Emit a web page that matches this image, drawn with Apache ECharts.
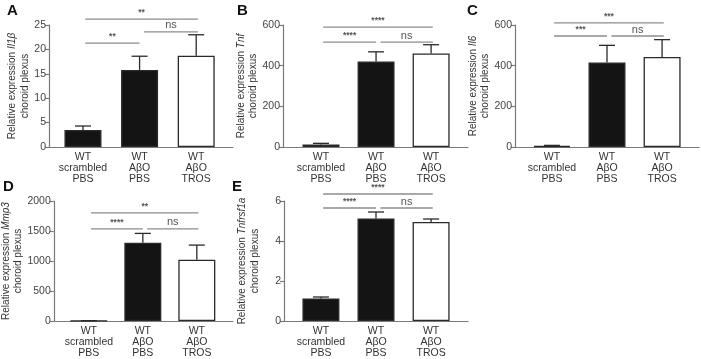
<!DOCTYPE html>
<html>
<head>
<meta charset="utf-8">
<script src="https://cdn.jsdelivr.net/npm/echarts@6/dist/echarts.min.js"></script>
<style>
  html, body { margin: 0; padding: 0; background: #fff; }
  #chart { width: 701px; height: 359px; }
</style>
</head>
<body>
<div id="chart"></div>
<script>
// groups (x positions 0, 1, 2)
const groups = ['WT\nscrambled\nPBS', 'WT\nAβO\nPBS', 'WT\nAβO\nTROS'];
const barFill = ['black', 'black', 'white'];

// mean and SEM
const il1bMean = [3.5, 15.8, 18.7];
const il1bSem = [0.8, 2.8, 4.3];
const tnfMean = [12, 420, 460];
const tnfSem = [6, 48, 43];
const il6Mean = [5, 415, 443];
const il6Sem = [3, 85, 85];
const mmp3Mean = [3, 1305, 1020];
const mmp3Sem = [2, 155, 245];
const tnfrsf1aMean = [1.13, 5.13, 4.95];
const tnfrsf1aSem = [0.07, 0.32, 0.15];

// y axis ticks: [max, step]
const il1bTicks = [25, 5];
const tnfTicks = [600, 200];
const il6Ticks = [600, 200];
const mmp3Ticks = [2000, 500];
const tnfrsf1aTicks = [6, 2];

// significance brackets [from, to, label]
const il1bSig = [[0, 2, '**'], [1, 2, 'ns'], [0, 1, '**']];
const tnfSig = [[0, 2, '****'], [1, 2, 'ns'], [0, 1, '****']];
const il6Sig = [[0, 2, '***'], [1, 2, 'ns'], [0, 1, '***']];
const mmp3Sig = [[0, 2, '**'], [1, 2, 'ns'], [0, 1, '****']];
const tnfrsf1aSig = [[0, 2, '****'], [1, 2, 'ns'], [0, 1, '****']];

const FONT = '"Liberation Sans", Arial, sans-serif';

const panels = [
  { letter: 'A', gene: 'Il1β', mean: il1bMean, sem: il1bSem, ticks: il1bTicks, sig: il1bSig,
    grid: { left: 49, top: 25, width: 184, height: 122 }, xr: [-0.6, 2.65], gap: 18,
    sigY: [26.2, 23.6, 21.3], lx: 7, ly: 3 },
  { letter: 'B', gene: 'Tnf', mean: tnfMean, sem: tnfSem, ticks: tnfTicks, sig: tnfSig,
    grid: { left: 283, top: 25, width: 185, height: 122 }, xr: [-0.69, 2.67], gap: 23,
    sigY: [590, 516, 516], lx: 237, ly: 3 },
  { letter: 'C', gene: 'Il6', mean: il6Mean, sem: il6Sem, ticks: il6Ticks, sig: il6Sig,
    grid: { left: 515, top: 25, width: 184, height: 122 }, xr: [-0.67, 2.67], gap: 19,
    sigY: [610, 546, 546], lx: 467, ly: 3 },
  { letter: 'D', gene: 'Mmp3', mean: mmp3Mean, sem: mmp3Sem, ticks: mmp3Ticks, sig: mmp3Sig,
    grid: { left: 49, top: 201, width: 184, height: 121 }, xr: [-0.65, 2.67], gap: 24,
    sigY: [1802, 1537, 1537], lx: 3, ly: 179 },
  { letter: 'E', gene: 'Tnfrsf1a', mean: tnfrsf1aMean, sem: tnfrsf1aSem, ticks: tnfrsf1aTicks, sig: tnfrsf1aSig,
    grid: { left: 284, top: 201, width: 184, height: 121 }, xr: [-0.67, 2.67], gap: 23,
    sigY: [6.35, 5.65, 5.65], lx: 232, ly: 179 }
];

const chart = echarts.init(document.getElementById('chart'));

const grid = [], xAxis = [], yAxis = [], series = [], graphic = [];

panels.forEach((p, i) => {
  grid.push(p.grid);
  xAxis.push({
    gridIndex: i,
    type: 'value',
    min: p.xr[0],
    max: p.xr[1],
    axisLine: { show: true, onZero: false, lineStyle: { color: '#7a7a7a', width: 1.2 } },
    axisTick: { show: false },
    splitLine: { show: false },
    axisLabel: {
      customValues: [0, 1, 2],
      formatter: v => groups[Math.round(v)],
      color: '#333',
      fontSize: 10.5,
      lineHeight: 11,
      margin: 5,
      fontFamily: FONT
    }
  });
  yAxis.push({
    gridIndex: i,
    type: 'value',
    min: 0,
    max: p.ticks[0],
    interval: p.ticks[1],
    name: '{n|Relative expression }{i|' + p.gene + '}\n{n|choroid plexus}',
    nameLocation: 'middle',
    nameGap: p.gap,
    nameTextStyle: {
      fontFamily: FONT,
      color: '#333',
      rich: {
        n: { fontSize: 10, lineHeight: 12.5, color: '#333', fontFamily: FONT },
        i: { fontSize: 10, lineHeight: 12.5, color: '#333', fontStyle: 'italic', fontFamily: FONT }
      }
    },
    axisLine: { show: true, onZero: false, lineStyle: { color: '#7a7a7a', width: 1.2 } },
    axisTick: { show: true, length: 4, lineStyle: { color: '#7a7a7a', width: 1.2 } },
    splitLine: { show: false },
    axisLabel: {
      color: '#444', fontSize: 10.5, margin: 3, fontFamily: FONT,
      formatter: v => String(v)
    }
  });

  series.push({
    type: 'bar',
    xAxisIndex: i,
    yAxisIndex: i,
    barWidth: 37,
    silent: true,
    data: p.mean.map((v, k) => ({
      value: [k, v],
      itemStyle: {
        color: barFill[k] === 'black' ? '#141414' : '#ffffff',
        borderColor: '#2a2a2a',
        borderWidth: 1.3
      }
    }))
  });

  // error bars (upper only)
  series.push({
    type: 'custom',
    xAxisIndex: i,
    yAxisIndex: i,
    clip: false,
    silent: true,
    data: p.mean.map((v, k) => [k, v, v + p.sem[k]]),
    encode: { x: 0, y: [1, 2] },
    renderItem(params, api) {
      const x = api.value(0);
      const a = api.coord([x, api.value(1)]);
      const b = api.coord([x, api.value(2)]);
      const st = { stroke: '#2a2a2a', lineWidth: 1.3 };
      return {
        type: 'group',
        children: [
          { type: 'line', shape: { x1: a[0], y1: a[1], x2: b[0], y2: b[1] }, style: st },
          { type: 'line', shape: { x1: b[0] - 8, y1: b[1], x2: b[0] + 8, y2: b[1] }, style: st }
        ]
      };
    }
  });

  // significance lines
  series.push({
    type: 'custom',
    xAxisIndex: i,
    yAxisIndex: i,
    clip: false,
    silent: true,
    data: p.sig.map((s, k) => [s[0], s[1], p.sigY[k]]),
    encode: { x: [0, 1], y: 2 },
    renderItem(params, api) {
      const s = p.sig[params.dataIndex];
      const x1 = api.value(0) + (api.value(0) > 0 ? 0.08 : 0.04);
      const x2 = api.value(1) + (api.value(1) === 2 ? 0.03 : 0);
      const a = api.coord([x1, api.value(2)]);
      const b = api.coord([x2, api.value(2)]);
      const isNs = s[2] === 'ns';
      return {
        type: 'group',
        children: [
          { type: 'line', shape: { x1: a[0], y1: a[1], x2: b[0], y2: a[1] },
            style: { stroke: '#8c8c8c', lineWidth: 1.3 } },
          { type: 'text', x: (a[0] + b[0]) / 2, y: a[1] - (isNs ? 1 : 2),
            style: {
              text: s[2], fill: '#555',
              font: (isNs ? '11px ' : 'bold 8.5px ') + FONT,
              align: 'center', verticalAlign: 'bottom'
            } }
        ]
      };
    }
  });

  graphic.push({
    type: 'text', left: p.lx, top: p.ly,
    style: { text: p.letter, fill: '#111', font: 'bold 15px ' + FONT }
  });
});

chart.setOption({
  animation: false,
  backgroundColor: '#fff',
  grid,
  xAxis,
  yAxis,
  series,
  graphic
});
</script>
</body>
</html>
